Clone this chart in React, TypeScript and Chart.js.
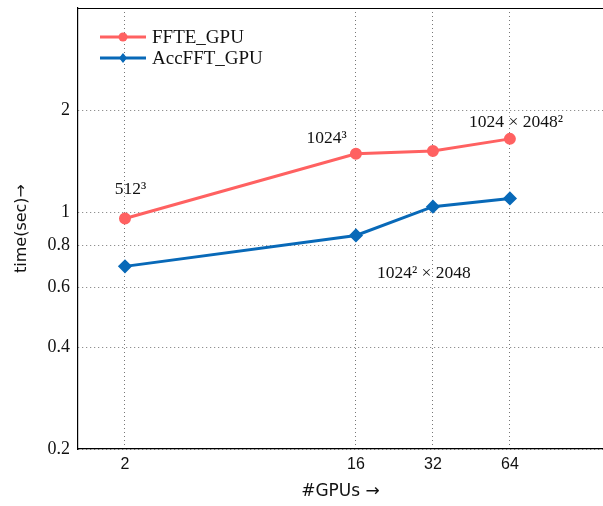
import React, { useEffect, useRef } from "react";
import { Chart, registerables } from "chart.js";

Chart.register(...registerables);

const gpus = [2, 16, 32, 64];
const ffteGpu = [0.96, 1.49, 1.52, 1.65];
const accfftGpu = [0.693, 0.855, 1.04, 1.1];
const xTicks = [2, 16, 32, 64];
const yTicks = [0.2, 0.4, 0.6, 0.8, 1, 2];
const annotations = [
  { text: "512³", x: 2.1, y: 1.168 },
  { text: "1024³", x: 12.3, y: 1.65 },
  { text: "1024 × 2048²", x: 67.6, y: 1.84 },
  { text: "1024² × 2048", x: 29.5, y: 0.662 },
];

const RED = "#ff6161";
const BLUE = "#0869b8";

const overlayPlugin = {
  id: "overlay",
  afterDatasetsDraw(chart: any) {
    const { ctx, chartArea, scales } = chart;
    ctx.save();
    // top frame line
    ctx.strokeStyle = "#000";
    ctx.lineWidth = 1.2;
    ctx.beginPath();
    ctx.moveTo(chartArea.left, chartArea.top + 0.5);
    ctx.lineTo(chartArea.right, chartArea.top + 0.5);
    ctx.stroke();

    // annotations
    ctx.fillStyle = "#111";
    ctx.font = "17.5px 'Liberation Serif'";
    ctx.textAlign = "center";
    ctx.textBaseline = "middle";
    annotations.forEach((a) => {
      const px = scales.x.getPixelForValue(a.x);
      const py = scales.y.getPixelForValue(a.y);
      ctx.fillText(a.text, px, py);
    });

    // legend
    chart.data.datasets.forEach((ds: any, i: number) => {
      const y = chartArea.top + 29 + i * 21;
      const x0 = chartArea.left + 22;
      const x1 = chartArea.left + 68;
      ctx.strokeStyle = ds.borderColor;
      ctx.lineWidth = ds.borderWidth;
      ctx.beginPath();
      ctx.moveTo(x0, y);
      ctx.lineTo(x1, y);
      ctx.stroke();
      const mx = (x0 + x1) / 2;
      ctx.fillStyle = ds.pointBackgroundColor;
      ctx.beginPath();
      if (ds.pointStyle === "rectRot") {
        const r = ds.pointRadius;
        ctx.moveTo(mx, y - r);
        ctx.lineTo(mx + r * 0.8, y);
        ctx.lineTo(mx, y + r);
        ctx.lineTo(mx - r * 0.8, y);
        ctx.closePath();
      } else {
        ctx.arc(mx, y, ds.pointRadius, 0, Math.PI * 2);
      }
      ctx.fill();
      ctx.fillStyle = "#111";
      ctx.textAlign = "left";
      ctx.font = "19px 'Liberation Serif'";
      ctx.fillText(ds.label, x1 + 6, y + 1);
    });
    ctx.restore();
  },
};

export default function App() {
  const ref = useRef<HTMLCanvasElement>(null);
  useEffect(() => {
    if (!ref.current) return;
    const chart = new Chart(ref.current, {
      type: "line",
      data: {
        datasets: [
          {
            label: "FFTE_GPU",
            data: gpus.map((g, i) => ({ x: g, y: ffteGpu[i] })),
            borderColor: RED,
            backgroundColor: RED,
            pointBackgroundColor: RED,
            pointBorderColor: RED,
            borderWidth: 3,
            pointRadius: 4.5,
            pointStyle: "circle",
            tension: 0,
          },
          {
            label: "AccFFT_GPU",
            data: gpus.map((g, i) => ({ x: g, y: accfftGpu[i] })),
            borderColor: BLUE,
            backgroundColor: BLUE,
            pointBackgroundColor: BLUE,
            pointBorderColor: BLUE,
            borderWidth: 3,
            pointRadius: 5,
            pointStyle: "rectRot",
            tension: 0,
          },
        ],
      },
      options: {
        animation: false,
        responsive: false,
        devicePixelRatio: 1,
        layout: { padding: { top: 6, right: 0, left: 0, bottom: 0 } },
        plugins: { legend: { display: false }, tooltip: { enabled: false } },
        scales: {
          x: {
            type: "logarithmic",
            min: 1.31,
            max: 148,
            afterBuildTicks: (s: any) => {
              s.ticks = xTicks.map((v) => ({ value: v }));
            },
            afterFit: (s: any) => {
              s.height = 57;
              s.paddingLeft = 0;
              s.paddingRight = 0;
            },
            ticks: {
              autoSkip: false,
              maxRotation: 0,
              padding: 6,
              color: "#111",
              font: { family: "'Liberation Sans'", size: 16 },
              callback: (v: any) => String(v),
            },
            grid: { color: "#777", lineWidth: 1, drawTicks: false },
            border: { color: "#000", width: 1.2, dash: [1, 3] },
            title: {
              display: true,
              text: "#GPUs →",
              color: "#111",
              font: { family: "'DejaVu Sans'", size: 17 },
              padding: { top: 0, bottom: 4 },
            },
          },
          y: {
            type: "logarithmic",
            min: 0.2,
            max: 4.02,
            afterBuildTicks: (s: any) => {
              s.ticks = yTicks.map((v) => ({ value: v }));
            },
            afterFit: (s: any) => {
              s.width = 78;
              s.paddingTop = 0;
              s.paddingBottom = 0;
            },
            ticks: {
              autoSkip: false,
              padding: 8,
              color: "#111",
              font: { family: "'Liberation Serif'", size: 18 },
              callback: (v: any) => String(v),
            },
            grid: { color: "#777", lineWidth: 1, drawTicks: false },
            border: { color: "#000", width: 1.2, dash: [1, 3] },
            title: {
              display: true,
              text: "time(sec)→",
              color: "#111",
              font: { family: "'DejaVu Sans'", size: 16 },
              padding: { top: 12, bottom: 0 },
            },
          },
        },
      },
      plugins: [overlayPlugin],
    } as any);
    return () => chart.destroy();
  }, []);
  return (
    <div
      style={{
        position: "absolute",
        left: 0,
        top: 0,
        width: 603,
        height: 506,
        overflow: "hidden",
        background: "#fff",
      }}
    >
      <canvas ref={ref} width={611} height={506} style={{ display: "block" }} />
    </div>
  );
}
